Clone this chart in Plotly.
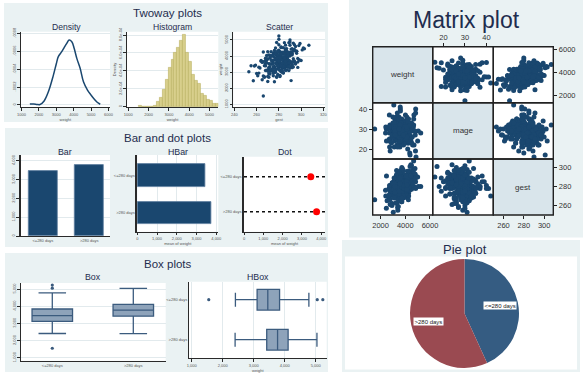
import math
import plotly.graph_objects as go

W, H = 583, 376
FONT = "Liberation Sans, Arial, sans-serif"

# ---------------------------------------------------------------- data
gest = [281, 276, 290, 268, 284, 279, 295, 272, 287, 262,
        283, 278, 299, 270, 286, 274, 291, 280, 265, 288,
        277, 293, 271, 285, 282, 260, 296, 275, 289, 279,
        273, 284, 267, 292, 281, 278, 302, 269, 286, 276,
        290, 283, 274, 258, 287, 280, 294, 271, 285, 279,
        266, 288, 282, 276, 297, 273, 284, 291, 263, 280,
        286, 275, 292, 270, 281, 289, 277, 255, 284, 298,
        279, 272, 287, 283, 268, 294, 280, 276, 290, 264,
        282, 307, 274, 288, 278, 271, 285, 293, 267, 281,
        277, 289, 284, 261, 292, 279, 273, 300, 286, 275,
        283, 270, 291, 278, 285, 266, 288, 281, 296, 272,
        280, 287, 275, 293, 269, 282, 257, 290, 277, 284,
        271, 286, 279, 299, 274, 288, 283, 265, 292, 278,
        285, 276, 290, 268, 281, 303, 273, 287, 280, 262,
        289, 282, 274, 295, 278, 270, 286, 284, 253, 291,
        276, 283, 288, 272, 297, 280, 267, 285, 279, 294,
        282, 269, 291, 277, 286, 259, 283, 274, 289, 281,
        273, 292, 280, 287, 264, 278, 298, 284, 271, 288,
        285, 275, 283, 290, 279, 266, 293, 276, 282, 301,
        270, 287, 281, 278, 294, 284, 272, 289, 266, 280,
        279, 284, 275, 288, 282, 271, 293, 277, 286, 280,
        276, 290, 283, 268, 287, 281, 274, 296, 278, 285,
        282, 273, 289, 279, 292, 286, 270, 284, 277, 291,
        280, 288, 275, 283, 269, 294, 281, 287, 276, 285,
        278, 290, 284, 272, 286, 281, 295, 279, 288, 274,
        283, 277, 291, 285, 280, 268, 289, 282, 275, 297]

mage = [28, 33, 24, 30, 27, 36, 22, 29, 31, 26,
        25, 30, 34, 21, 29, 27, 38, 26, 32, 28,
        31, 23, 29, 35, 26, 30, 27, 19, 33, 28,
        27, 32, 25, 29, 40, 24, 30, 28, 22, 34,
        29, 26, 31, 27, 24, 37, 28, 33, 20, 30,
        32, 28, 23, 30, 26, 35, 29, 25, 31, 27,
        24, 30, 28, 42, 27, 22, 33, 29, 26, 31,
        30, 27, 34, 25, 29, 31, 18, 28, 36, 26,
        28, 32, 26, 30, 23, 29, 39, 27, 31, 25,
        33, 27, 29, 24, 31, 28, 35, 26, 21, 30,
        26, 31, 28, 37, 25, 30, 27, 33, 29, 23,
        29, 24, 32, 28, 34, 26, 30, 16, 27, 31,
        31, 28, 25, 29, 33, 27, 22, 30, 26, 41,
        27, 34, 30, 26, 28, 24, 31, 29, 37, 25,
        30, 26, 29, 32, 21, 28, 35, 27, 31, 24,
        28, 31, 27, 30, 25, 33, 29, 38, 26, 22,
        32, 29, 24, 28, 31, 27, 36, 30, 19, 26,
        25, 30, 33, 27, 29, 40, 28, 23, 31, 29,
        29, 27, 31, 24, 34, 28, 26, 32, 30, 17,
        31, 26, 28, 35, 27, 30, 23, 29, 30, 28,
        27, 29, 32, 26, 30, 28, 25, 31, 29, 34,
        30, 24, 28, 33, 27, 31, 26, 29, 35, 28,
        26, 32, 29, 23, 30, 27, 33, 28, 31, 25,
        29, 34, 27, 30, 25, 28, 36, 26, 30, 32,
        31, 27, 24, 29, 33, 30, 28, 21, 26, 29,
        28, 30, 25, 31, 27, 29, 32, 26, 30, 27]

weight = [3935, 3080, 4000, 3860, 3420, 3485, 4595, 3050, 3815, 2940,
          3525, 4030, 3745, 2730, 4450, 3670, 3355, 3560, 3605, 3890,
          4165, 3665, 3525, 3245, 4560, 2920, 4300, 2775, 3705, 4005,
          3125, 4220, 2715, 4080, 3595, 2680, 4500, 4035, 3330, 3760,
          4670, 3485, 3490, 3380, 3135, 4700, 3700, 3225, 4195, 3195,
          2760, 3960, 4210, 3280, 3625, 4265, 2940, 4165, 3255, 3540,
          4130, 3585, 3280, 3070, 4275, 3475, 2995, 3395, 3820, 4650,
          2855, 3880, 4005, 3265, 3390, 4410, 4360, 3350, 3270, 3720,
          3850, 4675, 3070, 3300, 3850, 4065, 3605, 4805, 2675, 2795,
          4505, 3735, 4140, 2775, 4460, 3745, 3155, 3720, 3110, 4195,
          3415, 4270, 4255, 2710, 3785, 4250, 3610, 3765, 4300, 2880,
          5050, 3445, 3015, 3835, 3745, 4530, 2465, 4870, 3785, 2960,
          2905, 4280, 4325, 4785, 3130, 3420, 3855, 2525, 4160, 3590,
          3545, 4140, 3260, 3540, 2725, 4455, 3515, 4465, 4010, 3310,
          4145, 3030, 4040, 3505, 3560, 3090, 4680, 3620, 3025, 3635,
          2400, 3915, 4180, 3340, 3295, 3300, 3405, 4835, 4095, 4710,
          4050, 3125, 2475, 4205, 3400, 3435, 2995, 3710, 4825, 3605,
          3985, 3390, 3350, 4125, 3680, 4840, 3770, 4520, 2685, 3400,
          3915, 2935, 4235, 5000, 3455, 3650, 3325, 4350, 3320, 4385,
          2420, 4015, 3115, 3720, 4340, 3770, 4040, 3095, 1520, 5250,
          3725, 3350, 3995, 4070, 3470, 3285, 4305, 3065, 4360, 3840,
          3920, 3550, 3745, 3100, 4335, 3105, 3740, 4180, 3490, 3585,
          3410, 3755, 4235, 4275, 3480, 3720, 3830, 3950, 3215, 4435,
          3680, 4190, 3305, 3115, 3585, 3620, 4125, 3515, 4140, 3875,
          3880, 3680, 4230, 3510, 3660, 3895, 3575, 3365, 4170, 3170,
          3565, 4125, 4085, 4105, 3180, 3720, 3565, 4110, 3515, 3845]

# kernel density of weight
dens_x = [1480, 1700, 1900, 2060, 2300, 2550, 2830, 3000, 3116, 3312,
          3450, 3601, 3734, 3890, 4030, 4179, 4370, 4561, 4792, 5000,
          5139, 5350, 5526]
dens_y = [0.10e-4, 0.12e-4, 0.06e-4, 0.05e-4, 0.45e-4, 1.5e-4, 3.3e-4, 4.6e-4,
          5.4e-4, 5.95e-4, 6.4e-4, 6.88e-4, 7.25e-4, 7.06e-4, 6.3e-4, 5.2e-4,
          4.1e-4, 2.6e-4, 1.67e-4, 1.1e-4, 0.75e-4, 0.3e-4, 0.08e-4]

# histogram of weight (bin midpoints, density)
hist_width = 145
hist_mid = [1592, 1737, 1882, 2027, 2172, 2317, 2462, 2607, 2752, 2897,
            3042, 3187, 3332, 3477, 3622, 3767, 3912, 4057, 4202, 4347,
            4492, 4637, 4782, 4927, 5072, 5217, 5362]
hist_density = [0.14e-4, 0, 0, 0, 0, 0.14e-4, 0.6e-4, 1.0e-4, 1.9e-4, 3.0e-4,
                4.3e-4, 5.3e-4, 6.0e-4, 6.6e-4, 7.4e-4, 8.0e-4, 6.0e-4, 5.0e-4,
                3.6e-4, 2.9e-4, 2.6e-4, 1.5e-4, 1.2e-4, 0.8e-4, 0.7e-4, 0.3e-4,
                0.3e-4]

groups = ["<=280 days", ">280 days"]
mean_weight = [3460, 3760]

box_q1 = [3110, 3420]
box_median = [3455, 3770]
box_q3 = [3835, 4110]
box_lower = [2410, 2400]
box_upper = [4780, 5040]
outlier_group = ["<=280 days", "<=280 days", "<=280 days"]
outlier_weight = [1550, 5050, 5230]

pie_counts = [216, 284]

# ---------------------------------------------------------------- colours
NAVY = "#1a476f"
PANEL = "#eaf2f3"
GRID = "#e2eaed"
TITLE_C = "#1f2d4e"
AXIS_C = "#2a2a2a"
TICK_C = "#555555"
HIST_FILL = "#d8cf8c"
HIST_LINE = "#b9ae60"
BOX_FILL = "#8ea3ba"
BOX_LINE = "#3b5b7e"
PIE_COLORS = ["#355c82", "#9a4a51"]
DIAG_FILL = "#d9e5eb"


def dx(a, b):
    return [a / W, b / W]


def dy(top, bot):
    return [1 - bot / H, 1 - top / H]


def px(p):
    return p / W


def py(p):
    return 1 - p / H


layout = {}
traces = []
shapes = []
annotations = []


def refs(n):
    return ("x" if n == 1 else f"x{n}"), ("y" if n == 1 else f"y{n}")


def small_axis(dom, rng, **kw):
    d = dict(domain=dom, range=rng, showline=True, linecolor=AXIS_C, linewidth=1,
             ticks="outside", ticklen=2.5, tickwidth=0.8, tickcolor=AXIS_C,
             tickfont=dict(family=FONT, size=4, color=TICK_C),
             showgrid=False, gridcolor=GRID, gridwidth=1, zeroline=False,
             fixedrange=True, automargin=False)
    d.update(kw)
    return d


def add_axes(n, xa, ya):
    xr, yr = refs(n)
    xa["anchor"] = yr
    ya["anchor"] = xr
    layout["xaxis" if n == 1 else f"xaxis{n}"] = xa
    layout["yaxis" if n == 1 else f"yaxis{n}"] = ya


def tiny_title(text):
    return dict(text=text, font=dict(family=FONT, size=4, color=TICK_C), standoff=1)


def rect(x0, y0, x1, y1, fill, line=None, layer="below"):
    shapes.append(dict(type="rect", xref="paper", yref="paper",
                       x0=px(x0), x1=px(x1), y0=py(y1), y1=py(y0),
                       fillcolor=fill, line=line or dict(width=0), layer=layer))


def label(text, x, y, size, color=TITLE_C, **kw):
    annotations.append(dict(text=text, x=px(x), y=py(y), xref="paper", yref="paper",
                            showarrow=False, xanchor="center", yanchor="middle",
                            font=dict(family=FONT, size=size, color=color), **kw))


# ---------------------------------------------------------------- panels
rect(4, 3, 328, 122, PANEL)
rect(5, 128, 328, 247, PANEL)
rect(5, 253, 328, 372, PANEL)
rect(349, 0, 583, 237.5, PANEL)
rect(342, 240, 580, 372, PANEL)
rect(345, 256.5, 577, 369.5, "white")

# white plot regions
for (x0, y0, x1, y1) in [(20.7, 31.7, 110, 107.3), (126.7, 31.7, 218.3, 107.3),
                         (233.3, 31.7, 325, 107.3),
                         (20.7, 155, 110, 236), (137.3, 155, 218.3, 231.7),
                         (244, 156.7, 325, 231.7),
                         (20.7, 283, 165.7, 360.7), (189, 281.7, 326.7, 358.3)]:
    rect(x0, y0, x1, y1, "white")

label("Twoway plots", 167, 13, 11.5)
label("Density", 66, 27, 8.6)
label("Histogram", 172, 27, 8.6)
label("Scatter", 279, 27, 8.6)
label("Bar and dot plots", 167, 137.5, 11.5)
label("Bar", 65, 152, 8.8)
label("HBar", 178, 152, 8.8)
label("Dot", 285, 152, 8.8)
label("Box plots", 168, 263.5, 11.5)
label("Box", 93, 277, 8.8)
label("HBox", 258, 277, 8.8)
label("Matrix plot", 466.5, 20, 23)
label("Pie plot", 465, 249, 13)

YTICK = dict(tickangle=-90)

# ---------------------------------------------------------------- density
add_axes(1,
         small_axis(dx(20.7, 110), [954, 6086], tickvals=[1000, 2000, 3000, 4000, 5000, 6000],
                    title=tiny_title("weight")),
         small_axis(dy(31.7, 107.3), [-2.6e-5, 8.18e-4], tickvals=[0, 2e-4, 4e-4, 6e-4, 8e-4],
                    ticktext=["0", ".0002", ".0004", ".0006", ".0008"], showgrid=True, **YTICK))
traces.append(go.Scatter(x=dens_x, y=dens_y, mode="lines", line=dict(color=NAVY, width=1.5, shape="spline"),
                         xaxis="x", yaxis="y", hoverinfo="skip"))

# ---------------------------------------------------------------- histogram
add_axes(2,
         small_axis(dx(126.7, 218.3), [921, 5433], tickvals=[1000, 2000, 3000, 4000, 5000],
                    title=tiny_title("weight")),
         small_axis(dy(31.7, 107.3), [-6.7e-6, 8.37e-4], tickvals=[0, 2e-4, 4e-4, 6e-4, 8e-4],
                    ticktext=["0", "2.0e-04", "4.0e-04", "6.0e-04", "8.0e-04"],
                    title=tiny_title("Density"), showgrid=True, **YTICK))
traces.append(go.Bar(x=hist_mid, y=hist_density, width=hist_width, marker=dict(color=HIST_FILL, line=dict(color=HIST_LINE, width=0.6)),
                     xaxis="x2", yaxis="y2", hoverinfo="skip"))

# ---------------------------------------------------------------- scatter
add_axes(3,
         small_axis(dx(233.3, 325), [239, 321.5], tickvals=[240, 260, 280, 300, 320],
                    title=tiny_title("gest")),
         small_axis(dy(31.7, 107.3), [813, 5516], tickvals=[1000, 2000, 3000, 4000, 5000],
                    title=tiny_title("weight"), showgrid=True, **YTICK))
traces.append(go.Scatter(x=gest, y=weight, mode="markers", marker=dict(color=NAVY, size=3.4),
                         xaxis="x3", yaxis="y3", hoverinfo="skip"))

# ---------------------------------------------------------------- bar
add_axes(4,
         small_axis(dx(20.7, 110), [-0.48, 1.45], type="category", ticks=""),
         small_axis(dy(155, 236), [0, 4303], tickvals=[0, 1000, 2000, 3000, 4000],
                    ticktext=["0", "1,000", "2,000", "3,000", "4,000"], showgrid=True,
                    linewidth=1.5, **YTICK))
traces.append(go.Bar(x=groups, y=mean_weight, width=0.62,
                     marker=dict(color=NAVY, line=dict(color="#5f7f9f", width=0.8)),
                     xaxis="x4", yaxis="y4", hoverinfo="skip"))

# ---------------------------------------------------------------- hbar
add_axes(5,
         small_axis(dx(137.3, 218.3), [0, 4101], tickvals=[0, 1000, 2000, 3000, 4000],
                    ticktext=["0", "1,000", "2,000", "3,000", "4,000"], showgrid=True,
                    title=tiny_title("mean of weight")),
         small_axis(dy(155, 231.7), [1.505, -0.54], type="category", ticks="", linewidth=1.5))
traces.append(go.Bar(y=groups, x=mean_weight, orientation="h", width=0.6,
                     marker=dict(color=NAVY, line=dict(color="#5f7f9f", width=0.8)),
                     xaxis="x5", yaxis="y5", hoverinfo="skip"))

# ---------------------------------------------------------------- dot
add_axes(6,
         small_axis(dx(244, 325), [0, 4197], tickvals=[0, 1000, 2000, 3000, 4000],
                    ticktext=["0", "1,000", "2,000", "3,000", "4,000"],
                    title=tiny_title("mean of weight")),
         small_axis(dy(156.7, 231.7), [1.57, -0.57], type="category", ticks="", linewidth=1.5))
for i, g in enumerate(groups):
    shapes.append(dict(type="line", xref="x6 domain", x0=0, x1=1, yref="y6", y0=i, y1=i,
                       line=dict(color="#111111", width=1.6, dash="dot"), layer="below"))
traces.append(go.Scatter(x=mean_weight, y=groups, mode="markers",
                         marker=dict(color="#ff0000", size=7),
                         xaxis="x6", yaxis="y6", hoverinfo="skip"))

# ---------------------------------------------------------------- box
add_axes(7,
         small_axis(dx(20.7, 165.7), [-0.39, 1.4], type="category", ticks=""),
         small_axis(dy(283, 360.7), [826, 5350], tickvals=[1000, 2000, 3000, 4000, 5000],
                    ticktext=["1,000", "2,000", "3,000", "4,000", "5,000"], showgrid=True, **YTICK))
for i, g in enumerate(groups):
    traces.append(go.Box(x=[g], q1=[box_q1[i]], median=[box_median[i]], q3=[box_q3[i]],
                         lowerfence=[box_lower[i]], upperfence=[box_upper[i]],
                         width=0.5, whiskerwidth=0.68, fillcolor=BOX_FILL,
                         line=dict(color=BOX_LINE, width=1.3), boxpoints=False,
                         xaxis="x7", yaxis="y7", hoverinfo="skip"))
traces.append(go.Scatter(x=outlier_group, y=outlier_weight, mode="markers",
                         marker=dict(color=BOX_LINE, size=3.2),
                         xaxis="x7", yaxis="y7", hoverinfo="skip"))

# ---------------------------------------------------------------- hbox
add_axes(8,
         small_axis(dx(189, 326.7), [913, 5355], tickvals=[1000, 2000, 3000, 4000, 5000],
                    ticktext=["1,000", "2,000", "3,000", "4,000", "5,000"], showgrid=True,
                    title=tiny_title("weight")),
         small_axis(dy(281.7, 358.3), [1.465, -0.45], type="category", ticks=""))
for i, g in enumerate(groups):
    traces.append(go.Box(y=[g], q1=[box_q1[i]], median=[box_median[i]], q3=[box_q3[i]],
                         lowerfence=[box_lower[i]], upperfence=[box_upper[i]], orientation="h",
                         width=0.52, whiskerwidth=0.68, fillcolor=BOX_FILL,
                         line=dict(color=BOX_LINE, width=1.3), boxpoints=False,
                         xaxis="x8", yaxis="y8", hoverinfo="skip"))
traces.append(go.Scatter(y=outlier_group, x=outlier_weight, mode="markers",
                         marker=dict(color=BOX_LINE, size=3.2),
                         xaxis="x8", yaxis="y8", hoverinfo="skip"))

# ---------------------------------------------------------------- matrix
mat_x_edges = [372.7, 432.7, 493.3, 553.3]
mat_y_edges = [46.7, 102.7, 159.0, 215.0]
mat_names = ["weight", "mage", "gest"]
mat_data = [weight, mage, gest]
mat_range = [[1360, 6220], [15, 43.2], [250, 309]]
mat_ticks = [[2000, 4000, 6000], [20, 30, 40], [260, 280, 300]]
MFONT = dict(family=FONT, size=7.5, color="#333333")

n = 9
for r in range(3):
    for c in range(3):
        xa = dict(domain=dx(mat_x_edges[c], mat_x_edges[c + 1]), range=mat_range[c],
                  showline=False, showgrid=False, zeroline=False, fixedrange=True,
                  showticklabels=False, ticks="", automargin=False)
        ya = dict(domain=dy(mat_y_edges[r], mat_y_edges[r + 1]), range=mat_range[r],
                  showline=False, showgrid=False, zeroline=False, fixedrange=True,
                  showticklabels=False, ticks="", automargin=False)
        tick_style = dict(showticklabels=True, ticks="outside", ticklen=3, tickwidth=1,
                          tickcolor="#222222", tickfont=MFONT)
        if (r, c) == (0, 1):
            xa.update(tick_style, side="top", tickvals=mat_ticks[c])
        if (r, c) in [(2, 0), (2, 2)]:
            xa.update(tick_style, side="bottom", tickvals=mat_ticks[c])
        if (r, c) in [(0, 2), (2, 2)]:
            ya.update(tick_style, side="right", tickvals=mat_ticks[r])
        if (r, c) == (1, 0):
            ya.update(tick_style, side="left", tickvals=mat_ticks[r])
        add_axes(n, xa, ya)
        xr, yr = refs(n)
        if r == c:
            rect(mat_x_edges[c], mat_y_edges[r], mat_x_edges[c + 1], mat_y_edges[r + 1], DIAG_FILL)
            label(mat_names[r], (mat_x_edges[c] + mat_x_edges[c + 1]) / 2,
                  (mat_y_edges[r] + mat_y_edges[r + 1]) / 2, 8, color="#333333")
            traces.append(go.Scatter(x=[], y=[], xaxis=xr, yaxis=yr, hoverinfo="skip"))
        else:
            rect(mat_x_edges[c], mat_y_edges[r], mat_x_edges[c + 1], mat_y_edges[r + 1], "white")
            traces.append(go.Scatter(x=mat_data[c], y=mat_data[r], mode="markers",
                                     marker=dict(color=NAVY, size=5),
                                     xaxis=xr, yaxis=yr, hoverinfo="skip"))
        rect(mat_x_edges[c], mat_y_edges[r], mat_x_edges[c + 1], mat_y_edges[r + 1],
             "rgba(0,0,0,0)", line=dict(color="#222222", width=1.4), layer="above")
        n += 1

# ---------------------------------------------------------------- pie
pie_cx, pie_cy, pie_r = 464.5, 313.5, 54.5
traces.append(go.Pie(values=pie_counts, labels=groups, sort=False, direction="clockwise",
                     rotation=0, textinfo="none", hoverinfo="skip", showlegend=False,
                     marker=dict(colors=PIE_COLORS, line=dict(width=0)),
                     domain=dict(x=dx(pie_cx - pie_r, pie_cx + pie_r),
                                 y=dy(pie_cy - pie_r, pie_cy + pie_r))))
total = sum(pie_counts)
cum = 0
for g, v in zip(groups, pie_counts):
    ang = (cum + v / 2) / total * 2 * math.pi
    cum += v
    lx = pie_cx + 0.67 * pie_r * math.sin(ang)
    ly = pie_cy - 0.67 * pie_r * math.cos(ang)
    label(g, lx, ly, 6, color="#222222", bgcolor="white", borderpad=0.5)

layout.update(width=W, height=H, margin=dict(l=0, r=0, t=0, b=0),
              paper_bgcolor="white", plot_bgcolor="rgba(0,0,0,0)",
              showlegend=False, shapes=shapes, annotations=annotations,
              bargap=0, font=dict(family=FONT))

fig = go.Figure(data=traces, layout=layout)
fig.write_html("out.html")
